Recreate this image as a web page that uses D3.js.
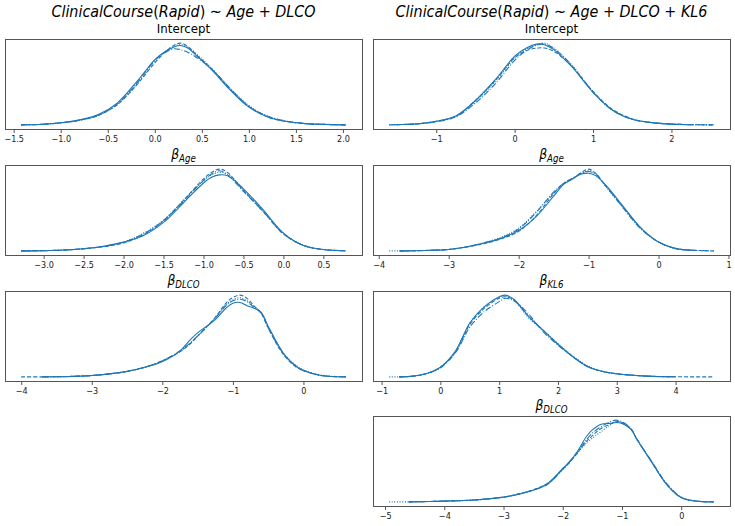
<!DOCTYPE html>
<html>
<head>
<meta charset="utf-8">
<script src="https://cdn.jsdelivr.net/npm/d3@7"></script>
<style>
  body { margin: 0; background: #fff; }
  text { font-family: "DejaVu Sans", sans-serif; }
</style>
</head>
<body>
<svg id="chart" width="735" height="526"></svg>
<script>
// ---- data (relative density per chain) ----
// chains: solid, dashed, dash-dot, dotted ; null = chain has no value there

// left column: ClinicalCourse(Rapid) ~ Age + DLCO
var xsL1 = [-1.42, -1.2, -1.0, -0.8, -0.6, -0.4, -0.2, -0.1, 0.0, 0.1, 0.2, 0.27, 0.35, 0.45, 0.6, 0.8, 1.0, 1.2, 1.4, 1.6, 1.8, 2.03];
var solidL1   = [0.005, 0.012, 0.03, 0.065, 0.13, 0.27, 0.52, 0.66, 0.80, 0.89, 0.95, 0.97, 0.94, 0.84, 0.68, 0.43, 0.22, 0.10, 0.045, 0.02, 0.01, 0.004];
var dashedL1  = [0.005, 0.01, 0.028, 0.06, 0.12, 0.25, 0.48, 0.62, 0.76, 0.88, 0.97, 1.0, 0.96, 0.85, 0.69, 0.44, 0.23, 0.10, 0.045, 0.02, 0.01, 0.004];
var dashdotL1 = [0.005, 0.011, 0.03, 0.062, 0.125, 0.26, 0.50, 0.65, 0.79, 0.88, 0.93, 0.92, 0.89, 0.82, 0.69, 0.45, 0.23, 0.11, 0.05, 0.02, 0.01, 0.004];
var dottedL1  = [0.005, 0.011, 0.029, 0.06, 0.12, 0.25, 0.49, 0.63, 0.78, 0.89, 0.96, 0.98, 0.95, 0.86, 0.70, 0.45, 0.24, 0.11, 0.05, 0.022, 0.01, 0.004];
var ticksL1 = [-1.5, -1.0, -0.5, 0.0, 0.5, 1.0, 1.5, 2.0];

var xsL2 = [-3.28, -3.0, -2.75, -2.5, -2.25, -2.0, -1.75, -1.5, -1.25, -1.0, -0.9, -0.8, -0.7, -0.5, -0.25, 0.0, 0.25, 0.5, 0.78];
var solidL2   = [0.003, 0.006, 0.014, 0.03, 0.06, 0.11, 0.19, 0.35, 0.59, 0.83, 0.90, 0.93, 0.92, 0.76, 0.50, 0.22, 0.07, 0.02, 0.004];
var dashedL2  = [0.003, 0.006, 0.013, 0.028, 0.055, 0.10, 0.20, 0.37, 0.62, 0.88, 0.96, 1.0, 0.96, 0.74, 0.48, 0.21, 0.07, 0.02, 0.004];
var dashdotL2 = [0.003, 0.006, 0.014, 0.03, 0.058, 0.11, 0.21, 0.37, 0.61, 0.86, 0.94, 0.98, 0.93, 0.73, 0.48, 0.21, 0.07, 0.02, 0.004];
var dottedL2  = [0.003, 0.006, 0.013, 0.029, 0.056, 0.11, 0.22, 0.38, 0.62, 0.86, 0.93, 0.96, 0.94, 0.75, 0.49, 0.22, 0.07, 0.02, 0.004];
var ticksL2 = [-3.0, -2.5, -2.0, -1.5, -1.0, -0.5, 0.0, 0.5];

var xsL3 = [-4.0, -3.7, -3.5, -3.25, -3.0, -2.75, -2.5, -2.25, -2.0, -1.75, -1.6, -1.5, -1.25, -1.1, -1.0, -0.9, -0.8, -0.7, -0.6, -0.5, -0.35, -0.25, -0.1, 0.0, 0.25, 0.6];
var solidL3   = [null, 0.003, 0.005, 0.01, 0.02, 0.04, 0.07, 0.12, 0.19, 0.32, 0.46, 0.54, 0.70, 0.84, 0.90, 0.91, 0.87, 0.84, 0.79, 0.62, 0.38, 0.25, 0.13, 0.08, 0.02, 0.003];
var dashedL3  = [0.003, 0.004, 0.006, 0.01, 0.02, 0.04, 0.07, 0.12, 0.20, 0.31, 0.41, 0.50, 0.73, 0.90, 0.97, 1.0, 0.96, 0.87, 0.78, 0.60, 0.36, 0.24, 0.12, 0.08, 0.02, 0.003];
var dashdotL3 = [null, 0.003, 0.005, 0.01, 0.02, 0.04, 0.07, 0.12, 0.20, 0.32, 0.42, 0.50, 0.72, 0.87, 0.93, 0.95, 0.92, 0.85, 0.78, 0.60, 0.37, 0.25, 0.13, 0.08, 0.02, 0.004];
var dottedL3  = [null, 0.003, 0.005, 0.01, 0.02, 0.04, 0.07, 0.12, 0.19, 0.31, 0.42, 0.50, 0.72, 0.88, 0.94, 0.97, 0.93, 0.86, 0.79, 0.62, 0.38, 0.26, 0.14, 0.09, 0.025, 0.004];
var ticksL3 = [-4, -3, -2, -1, 0];

// right column: ClinicalCourse(Rapid) ~ Age + DLCO + KL6
var xsR1 = [-1.6, -1.5, -1.25, -1.0, -0.75, -0.5, -0.25, 0.0, 0.15, 0.3, 0.38, 0.5, 0.65, 0.75, 1.0, 1.25, 1.5, 1.75, 2.0, 2.25, 2.54];
var solidR1   = [0.003, 0.005, 0.015, 0.045, 0.11, 0.30, 0.55, 0.84, 0.94, 0.99, 0.98, 0.92, 0.79, 0.69, 0.40, 0.18, 0.07, 0.03, 0.012, 0.005, null];
var dashedR1  = [null, 0.005, 0.015, 0.045, 0.11, 0.30, 0.54, 0.82, 0.91, 0.94, 0.94, 0.90, 0.79, 0.70, 0.41, 0.19, 0.075, 0.03, 0.013, 0.006, 0.002];
var dashdotR1 = [null, 0.004, 0.014, 0.04, 0.10, 0.27, 0.50, 0.79, 0.91, 0.98, 0.99, 0.93, 0.81, 0.70, 0.40, 0.18, 0.07, 0.03, 0.012, 0.005, 0.002];
var dottedR1  = [0.003, 0.005, 0.015, 0.045, 0.11, 0.29, 0.53, 0.82, 0.93, 0.98, 1.0, 0.94, 0.81, 0.71, 0.41, 0.18, 0.07, 0.03, 0.012, 0.005, 0.002];
var ticksR1 = [-1, 0, 1, 2];

var xsR2 = [-3.85, -3.7, -3.5, -3.25, -3.0, -2.75, -2.5, -2.25, -2.0, -1.75, -1.5, -1.35, -1.25, -1.1, -1.0, -0.9, -0.75, -0.5, -0.25, 0.0, 0.25, 0.5, 0.79];
var solidR2   = [null, 0.002, 0.004, 0.01, 0.02, 0.05, 0.095, 0.155, 0.25, 0.42, 0.67, 0.82, 0.87, 0.94, 0.95, 0.92, 0.80, 0.54, 0.28, 0.11, 0.03, 0.01, null];
var dashedR2  = [null, 0.002, 0.004, 0.01, 0.02, 0.05, 0.09, 0.15, 0.24, 0.43, 0.70, 0.83, 0.87, 0.96, 1.0, 0.95, 0.79, 0.53, 0.28, 0.11, 0.03, 0.01, 0.002];
var dashdotR2 = [null, 0.002, 0.004, 0.01, 0.02, 0.05, 0.10, 0.16, 0.27, 0.47, 0.72, 0.83, 0.88, 0.95, 0.97, 0.94, 0.79, 0.52, 0.27, 0.11, 0.03, 0.01, 0.002];
var dottedR2  = [0.002, 0.003, 0.004, 0.01, 0.02, 0.05, 0.10, 0.17, 0.28, 0.48, 0.71, 0.82, 0.87, 0.95, 0.98, 0.94, 0.78, 0.52, 0.27, 0.11, 0.03, 0.01, null];
var ticksR2 = [-4, -3, -2, -1, 0, 1];

var xsR3 = [-0.87, -0.7, -0.5, -0.25, 0.0, 0.25, 0.4, 0.5, 0.75, 1.0, 1.1, 1.25, 1.5, 1.75, 2.0, 2.25, 2.5, 2.75, 3.0, 3.5, 4.0, 4.65];
var solidR3   = [null, 0.003, 0.008, 0.04, 0.12, 0.31, 0.52, 0.66, 0.86, 0.98, 1.0, 0.95, 0.74, 0.57, 0.40, 0.25, 0.13, 0.07, 0.04, 0.012, 0.004, null];
var dashedR3  = [null, 0.003, 0.008, 0.04, 0.12, 0.30, 0.50, 0.64, 0.84, 0.96, 0.98, 0.94, 0.74, 0.57, 0.40, 0.25, 0.13, 0.07, 0.04, 0.012, 0.004, 0.002];
var dashdotR3 = [null, 0.003, 0.008, 0.04, 0.11, 0.29, 0.48, 0.61, 0.80, 0.92, 0.96, 0.93, 0.77, 0.55, 0.39, 0.25, 0.13, 0.07, 0.04, 0.012, 0.004, null];
var dottedR3  = [0.002, 0.003, 0.009, 0.04, 0.12, 0.31, 0.52, 0.66, 0.86, 0.97, 0.99, 0.94, 0.72, 0.57, 0.41, 0.26, 0.14, 0.07, 0.04, 0.012, 0.004, null];
var ticksR3 = [-1, 0, 1, 2, 3, 4];

var xsR4 = [-4.93, -4.6, -4.25, -4.0, -3.5, -3.0, -2.75, -2.5, -2.25, -2.0, -1.9, -1.75, -1.6, -1.5, -1.35, -1.2, -1.1, -1.0, -0.85, -0.75, -0.5, -0.25, 0.0, 0.25, 0.55];
var solidR4   = [null, 0.003, 0.007, 0.012, 0.025, 0.06, 0.095, 0.145, 0.23, 0.41, 0.48, 0.62, 0.80, 0.88, 0.95, 0.96, 0.97, 0.96, 0.89, 0.77, 0.49, 0.22, 0.055, 0.012, 0.003];
var dashedR4  = [null, 0.003, 0.007, 0.012, 0.025, 0.06, 0.10, 0.15, 0.23, 0.40, 0.47, 0.60, 0.74, 0.81, 0.90, 0.95, 0.98, 0.97, 0.89, 0.77, 0.49, 0.22, 0.055, 0.012, 0.003];
var dashdotR4 = [null, 0.003, 0.007, 0.012, 0.025, 0.06, 0.095, 0.145, 0.22, 0.40, 0.48, 0.61, 0.76, 0.84, 0.92, 0.98, 1.0, 0.98, 0.90, 0.77, 0.50, 0.23, 0.06, 0.013, 0.003];
var dottedR4  = [0.002, 0.003, 0.007, 0.012, 0.025, 0.06, 0.095, 0.145, 0.22, 0.40, 0.47, 0.60, 0.72, 0.78, 0.86, 0.94, 0.98, 0.97, 0.89, 0.76, 0.49, 0.22, 0.055, 0.012, 0.003];
var ticksR4 = [-5, -4, -3, -2, -1, 0];

// ---- layout ----
var svg = d3.select('#chart');
var colX = [[5, 362], [373, 730]],
    rowY = [39, 165, 291, 416],
    panelH = 90,
    blue = '#1f77b4',
    squeeze = 0.88,   // the reference text is a bit narrow for its height
    dashes = [null, '4,2', '6,1.8,1,1.8', '1,1.6'];

var panels = [
  {col: 0, row: 0, name: 'Intercept', xs: xsL1, chains: [solidL1, dashedL1, dashdotL1, dottedL1], ticks: ticksL1, fmt: '.1f'},
  {col: 0, row: 1, beta: 'Age',  xs: xsL2, chains: [solidL2, dashedL2, dashdotL2, dottedL2], ticks: ticksL2, fmt: '.1f'},
  {col: 0, row: 2, beta: 'DLCO', xs: xsL3, chains: [solidL3, dashedL3, dashdotL3, dottedL3], ticks: ticksL3, fmt: 'd'},
  {col: 1, row: 0, name: 'Intercept', xs: xsR1, chains: [solidR1, dashedR1, dashdotR1, dottedR1], ticks: ticksR1, fmt: 'd'},
  {col: 1, row: 1, beta: 'Age',  xs: xsR2, chains: [solidR2, dashedR2, dashdotR2, dottedR2], ticks: ticksR2, fmt: 'd'},
  {col: 1, row: 2, beta: 'KL6',  xs: xsR3, chains: [solidR3, dashedR3, dashdotR3, dottedR3], ticks: ticksR3, fmt: 'd'},
  {col: 1, row: 3, beta: 'DLCO', xs: xsR4, chains: [solidR4, dashedR4, dashdotR4, dottedR4], ticks: ticksR4, fmt: 'd'}
];

// super titles (mathtext style: italic symbols, upright operators)
var supTitles = [
  [['ClinicalCourse', 1], ['(', 0], ['Rapid', 1], [')', 0], [' \u223C ', 0], ['Age', 1], [' + ', 0], ['DLCO', 1]],
  [['ClinicalCourse', 1], ['(', 0], ['Rapid', 1], [')', 0], [' \u223C ', 0], ['Age', 1], [' + ', 0], ['DLCO', 1], [' + ', 0], ['KL6', 1]]
];
supTitles.forEach(function(parts, c) {
  var t = svg.append('text')
    .attr('transform', 'translate(' + ((colX[c][0] + colX[c][1]) / 2) + ',16.5) scale(' + squeeze + ',1)')
    .attr('text-anchor', 'middle')
    .attr('font-size', 16.3)
    .attr('fill', '#000');
  parts.forEach(function(p) {
    t.append('tspan').attr('font-style', p[1] ? 'italic' : 'normal').text(p[0]);
  });
});

panels.forEach(function(p) {
  var x0 = colX[p.col][0], x1 = colX[p.col][1],
      y0 = rowY[p.row], y1 = y0 + panelH;

  var xExt = d3.extent(p.xs), xPad = (xExt[1] - xExt[0]) * 0.05;
  var x = d3.scaleLinear().domain([xExt[0] - xPad, xExt[1] + xPad]).range([x0, x1]);

  var all = [].concat.apply([], p.chains).filter(function(v) { return v != null; });
  var yExt = d3.extent(all), yPad = (yExt[1] - yExt[0]) * 0.05;
  var y = d3.scaleLinear().domain([yExt[0] - yPad, yExt[1] + yPad]).range([y1, y0]);

  var g = svg.append('g');

  var line = d3.line()
    .defined(function(d) { return d[1] != null; })
    .x(function(d) { return x(d[0]); })
    .y(function(d) { return y(d[1]); })
    .curve(d3.curveCatmullRom.alpha(0.5));

  p.chains.forEach(function(c, i) {
    g.append('path')
      .datum(p.xs.map(function(xv, j) { return [xv, c[j]]; }))
      .attr('d', line)
      .attr('fill', 'none')
      .attr('stroke', blue)
      .attr('stroke-width', 1.1)
      .attr('stroke-dasharray', dashes[i]);
  });

  g.append('rect')
    .attr('x', x0 + 0.5).attr('y', y0 + 0.5)
    .attr('width', x1 - x0).attr('height', panelH)
    .attr('fill', 'none')
    .attr('stroke', '#555')
    .attr('stroke-width', 1);

  var f = d3.format(p.fmt);
  var ax = g.append('g')
    .attr('transform', 'translate(0,' + (y1 + 0.5) + ')')
    .call(d3.axisBottom(x)
      .tickValues(p.ticks)
      .tickFormat(function(d) { return f(d).replace('-', '\u2212'); })
      .tickSize(3.5)
      .tickPadding(2.5));
  ax.select('.domain').remove();
  ax.selectAll('line').attr('stroke', '#555');
  ax.selectAll('text')
    .attr('font-family', '"DejaVu Sans", sans-serif')
    .attr('font-size', 9.2)
    .attr('fill', '#222')
    .attr('transform', 'scale(' + squeeze + ',1)');

  // panel title
  var cx = (x0 + x1) / 2;
  var t = g.append('text')
    .attr('text-anchor', 'middle')
    .attr('fill', '#000');
  if (p.name) {
    t.attr('transform', 'translate(' + cx + ',' + (y0 - 6) + ')')
      .attr('font-size', 11.8)
      .text(p.name);
  } else {
    t.attr('transform', 'translate(' + cx + ',' + (y0 - 6) + ') scale(' + squeeze + ',1)')
      .attr('font-size', 14);
    t.append('tspan').attr('font-style', 'italic').text('\u03B2');
    t.append('tspan').attr('font-style', 'italic').attr('font-size', 9.8).attr('dy', 2.5).text(p.beta);
  }
});
</script>
</body>
</html>
